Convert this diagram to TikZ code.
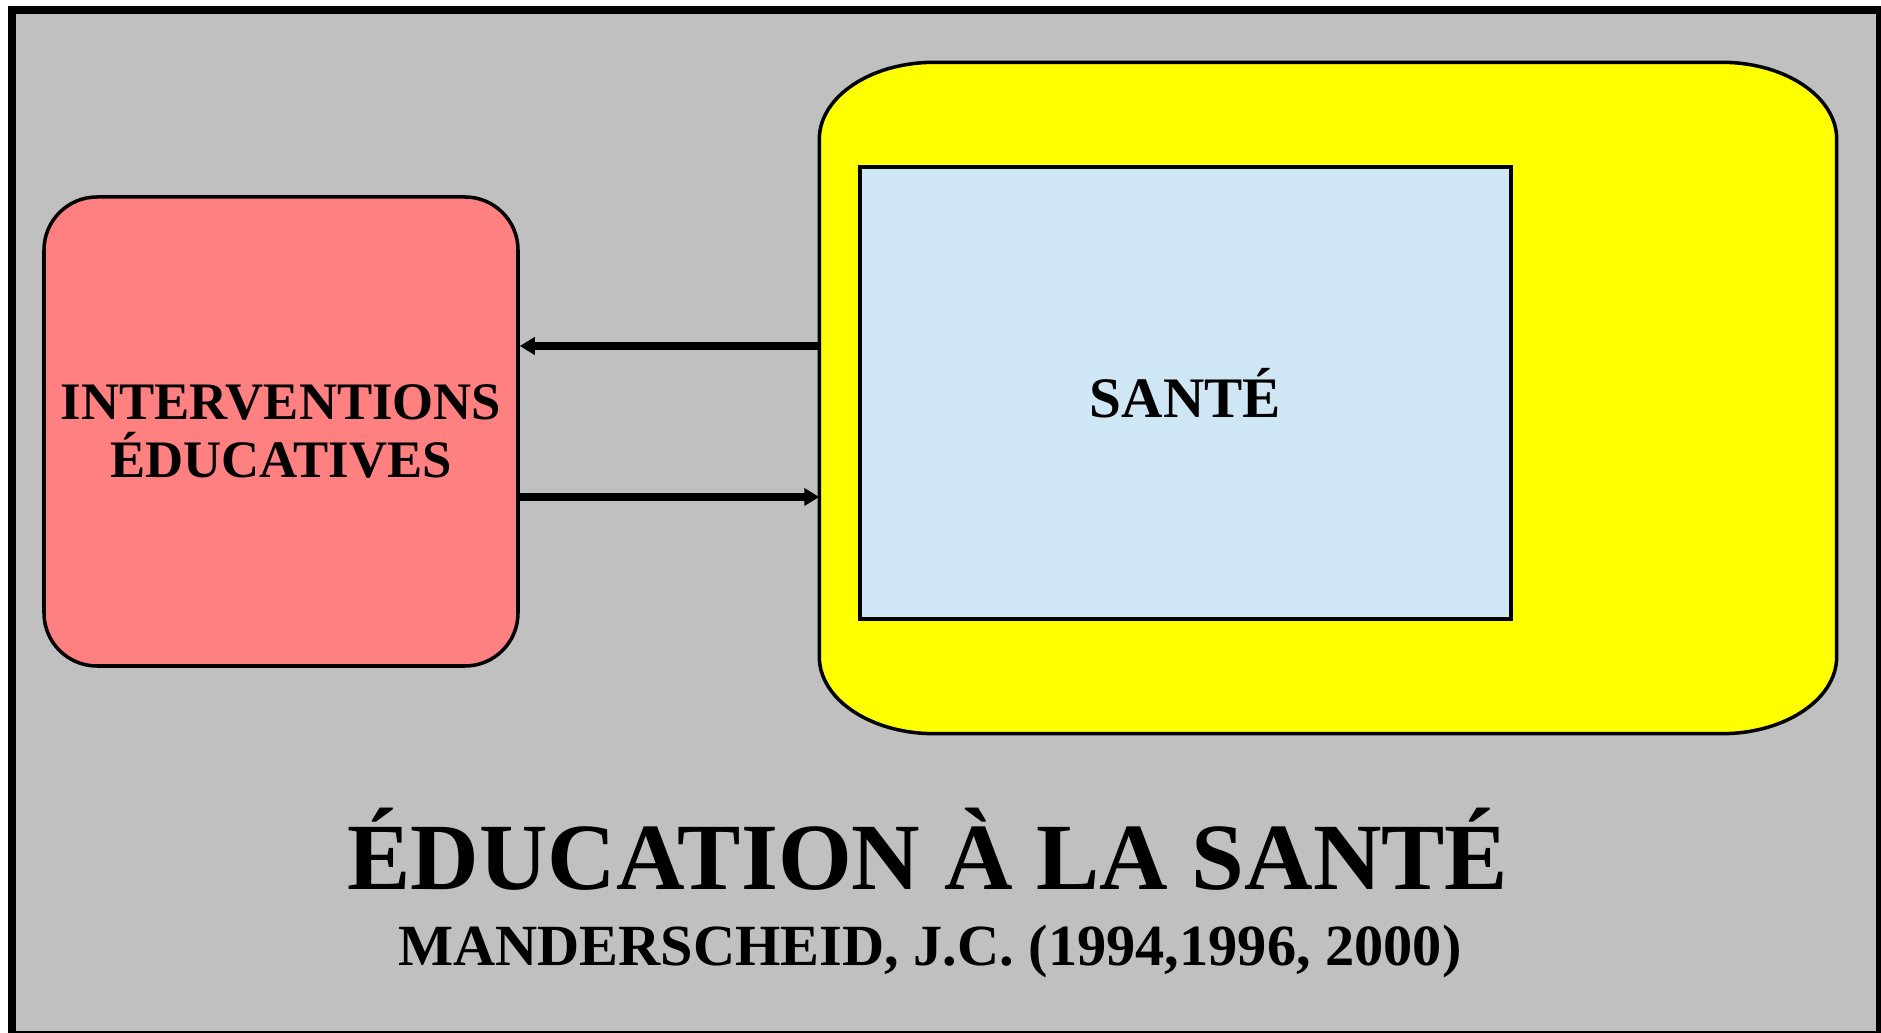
\documentclass[tikz,border=0pt]{standalone}
\usepackage{fontspec}
\setmainfont{Liberation Serif}
\usetikzlibrary{arrows.meta,positioning}
\definecolor{fond}{RGB}{192,192,192}
\definecolor{rose}{RGB}{255,128,128}
\definecolor{jaune}{RGB}{255,255,0}
\definecolor{bleu}{RGB}{207,230,244}

\begin{document}
\begin{tikzpicture}
    \tikzset{vertex/.style = {shape=rectangle,draw,line width=1pt,align=center}}
    \tikzset{edge/.style = {-{Triangle[length=1.5mm,width=1.7mm]},line width=2pt}}
    \useasboundingbox (0,0) rectangle (18.81,10.33);
    \draw[fill=fond,line width=0.08cm] (0.12,-0.02) rectangle (18.80,10.23);
    % vertices
    \node[vertex,fill=rose,rounded corners=0.53cm,minimum width=4.74cm,minimum height=4.69cm,
          font=\bfseries\fontsize{15}{16.5}\selectfont] (interv) at (2.81,6.015) {INTERVENTIONS\\ ÉDUCATIVES};
    \node[minimum width=10.16cm,minimum height=6.70cm,inner sep=0pt] (zone) at (13.28,6.35) {};
    \draw[fill=jaune,line width=1pt] ([xshift=1.15cm]zone.north west) -- ([xshift=-1.15cm]zone.north east)
        arc[start angle=90,end angle=0,x radius=1.15cm,y radius=0.77cm] -- ([yshift=0.77cm]zone.south east)
        arc[start angle=0,end angle=-90,x radius=1.15cm,y radius=0.77cm] -- ([xshift=1.15cm]zone.south west)
        arc[start angle=270,end angle=180,x radius=1.15cm,y radius=0.77cm] -- ([yshift=-0.77cm]zone.north west)
        arc[start angle=180,end angle=90,x radius=1.15cm,y radius=0.77cm] -- cycle;
    \node[vertex,fill=bleu,minimum width=6.51cm,minimum height=4.52cm,
          font=\bfseries\fontsize{16.3}{18}\selectfont] (sante) at (11.855,6.40) {SANTÉ};
    \node[font=\bfseries\fontsize{27}{30}\selectfont,anchor=base] (titre) at (9.28,1.43) {ÉDUCATION À LA SANTÉ};
    \node[font=\bfseries\fontsize{16.6}{19}\selectfont,anchor=base] (auteur) at (9.30,0.67) {MANDERSCHEID, J.C. (1994,1996, 2000)};
    % edges
    \coordinate (retour) at ([yshift=5.2mm]zone.west);
    \coordinate (aller) at ([yshift=-9.9mm]zone.west);
    \draw[edge] (retour) -- (retour -| interv.east);
    \draw[edge] (aller -| interv.east) -- (aller);
\end{tikzpicture}
\end{document}
